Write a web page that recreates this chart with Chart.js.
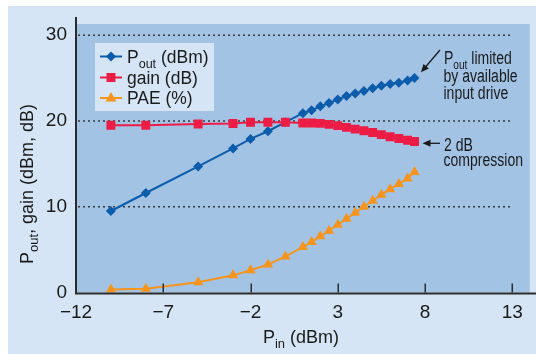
<!DOCTYPE html>
<html>
<head>
<meta charset="utf-8">
<script src="https://cdn.jsdelivr.net/npm/chart.js@4.4.0/dist/chart.umd.min.js"></script>
<style>
  body { margin: 0; background: #fff; }
  canvas { display: block; }
</style>
</head>
<body>
<canvas id="paChart" width="536" height="354"></canvas>
<script>
// Input power sweep (dBm)
const pin = [-10, -8, -5, -3, -2, -1, 0, 1, 1.5, 2, 2.5, 3, 3.5, 4, 4.5, 5, 5.5, 6, 6.5, 7, 7.4];
// Output power (dBm)
const pout = [9.5, 11.6, 14.7, 16.8, 17.9, 18.8, 19.85, 20.9, 21.25, 21.7, 22.1, 22.5, 22.9, 23.2, 23.5, 23.8, 24.1, 24.3, 24.45, 24.7, 25.0];
// Gain (dB)
const gain = [19.5, 19.5, 19.65, 19.7, 19.85, 19.85, 19.85, 19.75, 19.75, 19.72, 19.6, 19.45, 19.25, 19.05, 18.85, 18.65, 18.4, 18.15, 17.95, 17.75, 17.6];
// Power added efficiency (%)
const pae = [0.35, 0.45, 1.2, 2.0, 2.6, 3.25, 4.2, 5.3, 5.9, 6.55, 7.2, 7.9, 8.6, 9.3, 10.0, 10.7, 11.4, 12.05, 12.65, 13.3, 14.05];

const xTicks = [-12, -7, -2, 3, 8, 13];
const yTicks = [0, 10, 20, 30];

const outerBg = '#d5e5f5';
const plotBg = '#a3c3e5';
const blue = '#0b5cab';
const red = '#ed1c45';
const orange = '#f7941d';
const ink = '#1a1a1a';
const FONT = '"Liberation Sans", Arial, sans-serif';

function pts(ys) {
    return pin.map((x, i) => ({ x: x, y: ys[i] }));
}

// draws text from [text, isSubscript] parts, sx squeezes it horizontally
function drawParts(ctx, parts, x, y, size, sx) {
    sx = sx || 1;
    ctx.save();
    ctx.translate(x, y);
    ctx.scale(sx, 1);
    let cx = 0;
    parts.forEach(p => {
        const s = p[1] ? size * 0.72 : size;
        ctx.font = s + 'px ' + FONT;
        ctx.fillText(p[0], cx, p[1] ? size * 0.3 : 0);
        cx += ctx.measureText(p[0]).width;
    });
    ctx.restore();
    return cx * sx;
}

function measureParts(ctx, parts, size) {
    let w = 0;
    parts.forEach(p => {
        ctx.font = (p[1] ? size * 0.72 : size) + 'px ' + FONT;
        w += ctx.measureText(p[0]).width;
    });
    return w;
}

function marker(ctx, type, x, y, color) {
    ctx.fillStyle = color;
    ctx.beginPath();
    if (type === 'rectRot') {
        ctx.moveTo(x - 5, y); ctx.lineTo(x, y - 5); ctx.lineTo(x + 5, y); ctx.lineTo(x, y + 5);
    } else if (type === 'rect') {
        ctx.rect(x - 4.5, y - 4.5, 9, 9);
    } else {
        ctx.moveTo(x - 5.5, y + 3.5); ctx.lineTo(x, y - 6); ctx.lineTo(x + 5.5, y + 3.5);
    }
    ctx.closePath();
    ctx.fill();
}

function arrow(ctx, x1, y1, x2, y2) {
    const a = Math.atan2(y2 - y1, x2 - x1);
    ctx.strokeStyle = ink;
    ctx.fillStyle = ink;
    ctx.lineWidth = 1.3;
    ctx.beginPath();
    ctx.moveTo(x1, y1);
    ctx.lineTo(x2 - 5 * Math.cos(a), y2 - 5 * Math.sin(a));
    ctx.stroke();
    ctx.beginPath();
    ctx.moveTo(x2, y2);
    ctx.lineTo(x2 - 8 * Math.cos(a) + 3.5 * Math.sin(a), y2 - 8 * Math.sin(a) - 3.5 * Math.cos(a));
    ctx.lineTo(x2 - 8 * Math.cos(a) - 3.5 * Math.sin(a), y2 - 8 * Math.sin(a) + 3.5 * Math.cos(a));
    ctx.closePath();
    ctx.fill();
}

const decorPlugin = {
    id: 'decor',
    beforeDraw(chart) {
        const { ctx, chartArea: a, scales: { x, y } } = chart;
        ctx.save();
        ctx.fillStyle = '#fff';
        ctx.fillRect(0, 0, chart.width, chart.height);
        ctx.fillStyle = outerBg;
        ctx.fillRect(8, 6, chart.width - 8, chart.height - 6);
        ctx.fillStyle = plotBg;
        ctx.fillRect(a.left, a.top, a.right - a.left, a.bottom - a.top);

        // dotted grid lines
        ctx.strokeStyle = '#3a3a3a';
        ctx.lineWidth = 1.5;
        ctx.setLineDash([2, 3]);
        yTicks.filter(v => v > 0).forEach(v => {
            const py = y.getPixelForValue(v);
            ctx.beginPath();
            ctx.moveTo(a.left + 2, py);
            ctx.lineTo(x.getPixelForValue(13), py);
            ctx.stroke();
        });
        ctx.restore();
    },
    afterDraw(chart) {
        const { ctx, chartArea: a, scales: { x, y } } = chart;
        ctx.save();

        // axis lines and inward ticks
        ctx.strokeStyle = '#2b2b2b';
        ctx.lineWidth = 2;
        ctx.beginPath();
        ctx.moveTo(a.left, 17);
        ctx.lineTo(a.left, a.bottom + 1);
        ctx.lineTo(chart.width, a.bottom + 1);
        ctx.stroke();
        ctx.lineWidth = 1.5;
        xTicks.slice(1).forEach(v => {
            const px = Math.round(x.getPixelForValue(v)) + 0.25;
            ctx.beginPath();
            ctx.moveTo(px, a.bottom);
            ctx.lineTo(px, a.bottom - 9);
            ctx.stroke();
        });

        // axis titles
        ctx.fillStyle = ink;
        ctx.textBaseline = 'alphabetic';
        ctx.textAlign = 'left';
        const xt = [['P', false], ['in', true], [' (dBm)', false]];
        const xw = measureParts(ctx, xt, 18);
        drawParts(ctx, xt, 301 - xw / 2, 343, 18);

        const yt = [['P', false], ['out', true], [', gain (dBm, dB)', false]];
        const yw = measureParts(ctx, yt, 18);
        ctx.save();
        ctx.translate(33, 184);
        ctx.rotate(-Math.PI / 2);
        drawParts(ctx, yt, -yw / 2, 0, 18);
        ctx.restore();

        // legend
        ctx.fillStyle = outerBg;
        ctx.fillRect(95, 43, 119, 68);
        const rows = [
            { parts: [['P', false], ['out', true], [' (dBm)', false]], color: blue, type: 'rectRot', cy: 56.5, base: 62.5 },
            { parts: [['gain (dB)', false]], color: red, type: 'rect', cy: 77.5, base: 84 },
            { parts: [['PAE (%)', false]], color: orange, type: 'triangle', cy: 98, base: 104 }
        ];
        rows.forEach(r => {
            ctx.strokeStyle = r.color;
            ctx.lineWidth = 2;
            ctx.beginPath();
            ctx.moveTo(100, r.cy);
            ctx.lineTo(122, r.cy);
            ctx.stroke();
            marker(ctx, r.type, 111, r.cy, r.color);
            ctx.fillStyle = ink;
            drawParts(ctx, r.parts, 127, r.base, 18, 0.97);
        });

        // annotations
        ctx.fillStyle = ink;
        const sq = 0.78;
        drawParts(ctx, [['P', false], ['out', true], [' limited', false]], 444, 63.5, 18, sq);
        drawParts(ctx, [['by available', false]], 443.5, 81.5, 18, sq);
        drawParts(ctx, [['input drive', false]], 443.5, 98.5, 18, sq);
        drawParts(ctx, [['2 dB', false]], 444, 151, 18, sq);
        drawParts(ctx, [['compression', false]], 443.5, 166, 18, sq);
        arrow(ctx, 440, 50, 421, 72.3);
        arrow(ctx, 440, 143.3, 422.5, 143.3);

        ctx.restore();
    }
};

new Chart(document.getElementById('paChart'), {
    type: 'scatter',
    data: {
        datasets: [{
            label: 'gain (dB)',
            data: pts(gain),
            showLine: true,
            borderColor: red,
            backgroundColor: red,
            borderWidth: 2,
            pointStyle: 'rect',
            pointRadius: 6.3,
            pointBorderWidth: 0,
            order: 0
        }, {
            label: 'Pout (dBm)',
            data: pts(pout),
            showLine: true,
            borderColor: blue,
            backgroundColor: blue,
            borderWidth: 2,
            pointStyle: 'rectRot',
            pointRadius: 5,
            pointBorderWidth: 0,
            order: 1
        }, {
            label: 'PAE (%)',
            data: pts(pae),
            showLine: true,
            borderColor: orange,
            backgroundColor: orange,
            borderWidth: 2,
            pointStyle: 'triangle',
            pointRadius: 6,
            pointBorderWidth: 0,
            order: 2
        }]
    },
    options: {
        responsive: false,
        animation: false,
        devicePixelRatio: 1,
        layout: { padding: { left: 0, top: 24, right: 5, bottom: 0 } },
        plugins: {
            legend: { display: false },
            tooltip: { enabled: false }
        },
        scales: {
            x: {
                type: 'linear',
                min: -12,
                max: 14,
                afterBuildTicks: s => { s.ticks = xTicks.map(v => ({ value: v })); },
                afterFit: s => { s.height = 61.5; },
                grid: { display: false, drawTicks: false },
                border: { display: false },
                ticks: {
                    color: ink,
                    padding: 9,
                    maxRotation: 0,
                    font: { family: FONT, size: 19 },
                    callback: v => (v < 0 ? '\u2212' + Math.abs(v) : '' + v)
                }
            },
            y: {
                type: 'linear',
                min: 0,
                max: 31.3,
                afterBuildTicks: s => { s.ticks = yTicks.map(v => ({ value: v })); },
                afterFit: s => { s.width = 76; },
                grid: { display: false, drawTicks: false },
                border: { display: false },
                ticks: {
                    color: ink,
                    padding: 9,
                    font: { family: FONT, size: 19 }
                }
            }
        }
    },
    plugins: [decorPlugin]
});
</script>
</body>
</html>
